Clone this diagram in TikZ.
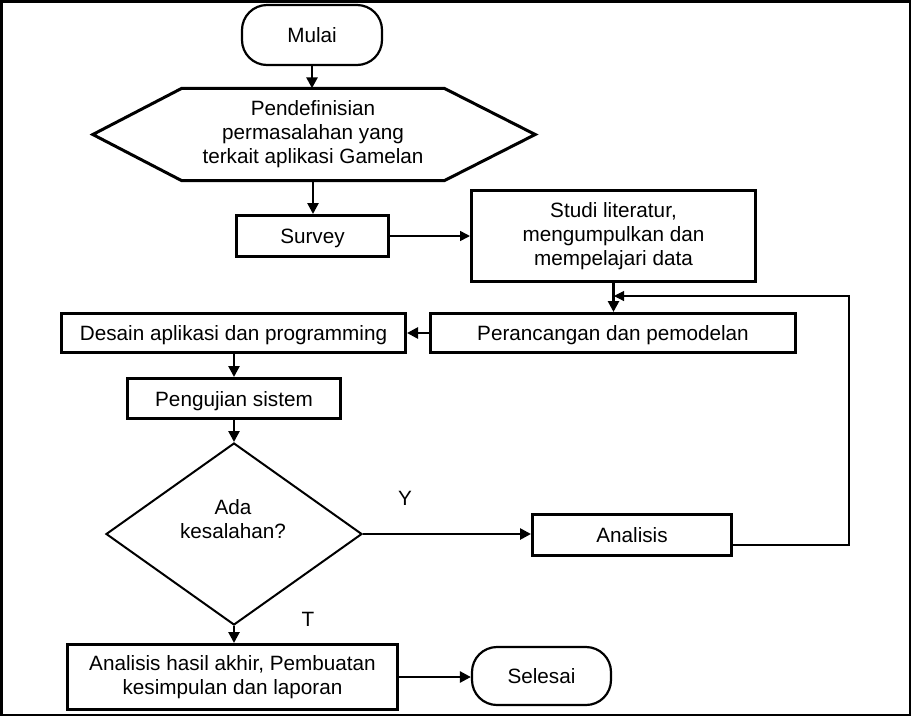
\documentclass[tikz,border=0pt]{standalone}
\usepackage{fontspec}
\setmainfont{Liberation Sans}
\usetikzlibrary{arrows.meta,shapes.geometric,calc}
\begin{document}
\begin{tikzpicture}[x=1pt,y=-1pt,
  every node/.style={font=\fontsize{20.7}{24}\selectfont, inner sep=0pt, align=center, text=black},
  procbox/.style={draw, line width=3pt},
  oneline/.style={text height=15pt, text depth=0pt},
  termbox/.style={draw, line width=2.2pt, rounded corners=25pt},
  arr/.style={line width=2.6pt, -{Triangle[length=11pt,width=11pt]}},
  thinarr/.style={line width=1.6pt, -{Triangle[length=10pt,width=10pt]}},
  fbline/.style={line width=1.1pt, -{Triangle[length=10pt,width=10pt]}}
]
\useasboundingbox (0,0) rectangle (911,716);
\fill[black] (0,0) rectangle (911,716);
\fill[white] (3,2.5) rectangle (909,713.5);

% nodes
\node[termbox, minimum width=140pt, minimum height=60pt] (mulai) at (312,35) {Mulai};
\node[minimum width=262pt, minimum height=92pt] (hex) at (313,134.5) {Pendefinisian\\permasalahan yang\\terkait aplikasi Gamelan};
\draw[line width=3pt, line join=miter] (hex.north west) -- (hex.north east) -- ([xshift=91pt]hex.east) -- (hex.south east) -- (hex.south west) -- ([xshift=-89pt]hex.west) -- cycle;

\node[procbox, oneline, minimum width=152pt, minimum height=41pt] (survey) at (312.5,236) {Survey};
\node[procbox, minimum width=284pt, minimum height=91pt] (studi) at (613.5,236) {Studi literatur,\\mengumpulkan dan\\mempelajari data};
\node[procbox, oneline, minimum width=365pt, minimum height=39pt] (peran) at (613,333) {Perancangan dan pemodelan};
\node[procbox, oneline, minimum width=344pt, minimum height=39pt] (desain) at (233.5,333) {Desain aplikasi dan programming};
\node[procbox, oneline, minimum width=213pt, minimum height=40pt] (uji) at (234,398.5) {Pengujian sistem};
\node[diamond, draw, line width=2pt, minimum width=256pt, minimum height=182pt] (dia) at (234,534) {};
\node (q) at (233,519) {Ada\\kesalahan?};
\node (ylab) at (405,498) {Y};
\node (tlab) at (308,619) {T};
\node[procbox, oneline, minimum width=199pt, minimum height=41pt] (ana) at (632,535) {Analisis};
\node[procbox, minimum width=330pt, minimum height=65pt] (hasil) at (232.5,677) {Analisis hasil akhir, Pembuatan\\kesimpulan dan laporan};
\node[termbox, minimum width=139pt, minimum height=58pt] (sel) at (541.5,676) {Selesai};

\coordinate (fb1) at (849,545);
\coordinate (fb2) at (849,296);
\coordinate (fbend) at (614,296);

% connectors
\draw[arr] (mulai.south) -- (mulai.south |- hex.north);
\draw[arr] (hex.south) -- (hex.south |- survey.north);
\draw[thinarr] (survey.east) -- (studi.west);
\draw[arr] (studi.south) -- (studi.south |- peran.north);
\draw[fbline] ([yshift=-10pt]ana.east) -- (fb1) -- (fb2) -- (fbend);
\draw[arr] (peran.west) -- (desain.east);
\draw[arr] (desain.south -| uji.north) -- (uji.north);
\draw[arr] (uji.south) -- (dia.north);
\draw[arr] (dia.east) -- (dia.east -| ana.west);
\draw[arr] (dia.south) -- (dia.south |- hasil.north);
\draw[arr] (hasil.east) -- (hasil.east -| sel.west);
\end{tikzpicture}
\end{document}
